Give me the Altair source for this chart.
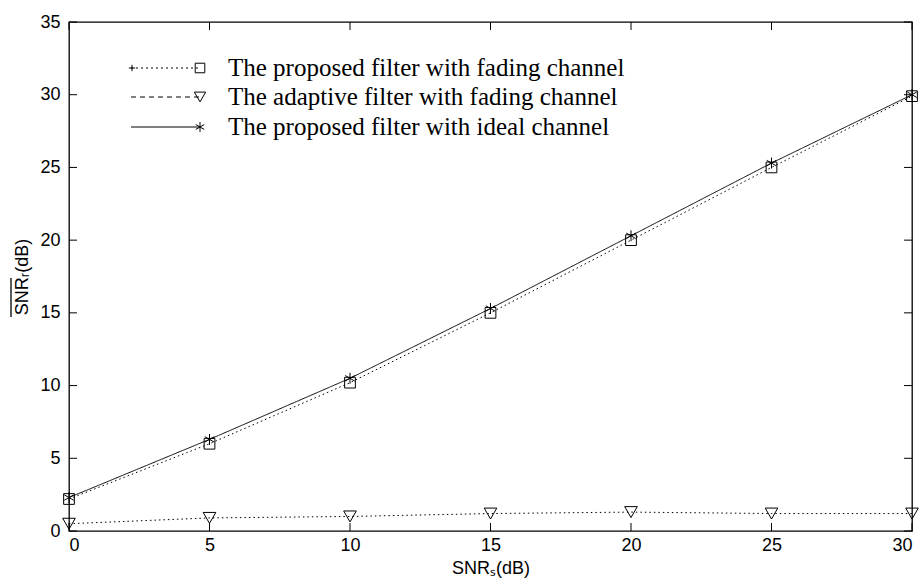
import altair as alt
import pandas as pd

# ---- data ----
snr_s = [0, 5, 10, 15, 20, 25, 30]
proposed_fading = [2.2, 6.0, 10.2, 15.0, 20.0, 25.0, 29.9]
adaptive_fading = [0.5, 0.9, 1.0, 1.2, 1.3, 1.2, 1.2]
proposed_ideal = [2.3, 6.3, 10.5, 15.3, 20.3, 25.3, 30.0]
series_names = [
    "The proposed filter with fading channel",
    "The adaptive filter with fading channel",
    "The proposed filter with ideal channel",
]
x_ticks = [0, 5, 10, 15, 20, 25, 30]
y_ticks = [0, 5, 10, 15, 20, 25, 30, 35]

# ---- layout / style ----
W, H = 843, 509
TICK = 8
STAR = "M0,-1L0,1M-0.87,-0.5L0.87,0.5M-0.87,0.5L0.87,-0.5"
PLUS = "M-1,0L1,0M0,-1L0,1"
styles = [
    dict(dash=[1.5, 3], shape="square", size=115, ldash=[2, 3]),
    dict(dash=[1.5, 3], shape="triangle-down", size=160, ldash=[5, 4]),
    dict(dash=[1, 0], shape=STAR, size=120, ldash=[1, 0]),
]
values = [proposed_fading, adaptive_fading, proposed_ideal]

xs = alt.Scale(domain=[0, 30], nice=False, zero=False)
ys = alt.Scale(domain=[0, 35], nice=False, zero=False)
x_axis = alt.Axis(values=x_ticks, title="SNRₛ(dB)", ticks=False, domain=False,
                  grid=False, labelPadding=5, titlePadding=5, format="d")
y_axis = alt.Axis(values=y_ticks, title="SNRᵣ(dB)", ticks=False, domain=False,
                  grid=False, labelPadding=9, titlePadding=8, format="d")

layers = []
for vals, name, st in zip(values, series_names, styles):
    df = pd.DataFrame({"snr_s": snr_s, "snr_r": vals, "series": name})
    base = alt.Chart(df).encode(
        x=alt.X("snr_s:Q", scale=xs, axis=x_axis),
        y=alt.Y("snr_r:Q", scale=ys, axis=y_axis),
    )
    layers.append(base.mark_line(color="black", strokeWidth=1, strokeDash=st["dash"]))
    layers.append(base.mark_point(shape=st["shape"], size=st["size"], filled=False,
                                  color="black", strokeWidth=1, opacity=1))

# inward tick marks on all four sides
xt = alt.Chart(pd.DataFrame({"snr_s": x_ticks}))
yt = alt.Chart(pd.DataFrame({"snr_r": y_ticks}))
layers.append(xt.mark_rule(color="black").encode(
    x=alt.X("snr_s:Q", scale=xs, axis=x_axis), y=alt.value(H), y2=alt.value(H - TICK)))
layers.append(xt.mark_rule(color="black").encode(
    x=alt.X("snr_s:Q", scale=xs, axis=x_axis), y=alt.value(0), y2=alt.value(TICK)))
layers.append(yt.mark_rule(color="black").encode(
    y=alt.Y("snr_r:Q", scale=ys, axis=y_axis), x=alt.value(0), x2=alt.value(TICK)))
layers.append(yt.mark_rule(color="black").encode(
    y=alt.Y("snr_r:Q", scale=ys, axis=y_axis), x=alt.value(W), x2=alt.value(W - TICK)))

# overline over "SNR" in the y-axis title (mean value)
layers.append(alt.Chart(pd.DataFrame({"k": [0]})).mark_rule(color="black", strokeWidth=1.3).encode(
    x=alt.value(-58), y=alt.value(256), y2=alt.value(295)))

# legend (inside plot, top-left)
row_y = [46, 75, 105]
for i, (name, st) in enumerate(zip(series_names, styles)):
    ld = alt.Chart(pd.DataFrame({"label": [name]}))
    layers.append(ld.mark_rule(color="black", strokeWidth=1, strokeDash=st["ldash"]).encode(
        x=alt.value(62), x2=alt.value(131), y=alt.value(row_y[i])))
    layers.append(ld.mark_point(shape=st["shape"], size=st["size"] * 0.8, filled=False,
                                color="black", strokeWidth=1, opacity=1).encode(
        x=alt.value(131), y=alt.value(row_y[i])))
    if i == 0:
        layers.append(ld.mark_point(shape=PLUS, size=40, filled=False,
                                    color="black", strokeWidth=1, opacity=1).encode(
            x=alt.value(63), y=alt.value(row_y[i])))
    layers.append(ld.mark_text(align="left", baseline="middle", font="Liberation Serif",
                               fontSize=25, color="black").encode(
        x=alt.value(159), y=alt.value(row_y[i]), text="label:N"))

chart = alt.layer(*layers).properties(
    width=W, height=H,
    autosize=alt.AutoSizeParams(type="none"),
    padding={"left": 69, "top": 22, "right": 10, "bottom": 52},
    background="white",
).configure_view(stroke="black", strokeWidth=1.3).configure_axis(
    labelFont="Liberation Sans", labelFontSize=18, labelColor="black",
    titleFont="Liberation Sans", titleFontSize=18, titleColor="black",
    titleFontWeight="normal",
)

chart.save("out.html", embed_options={"renderer": "svg", "actions": False})
